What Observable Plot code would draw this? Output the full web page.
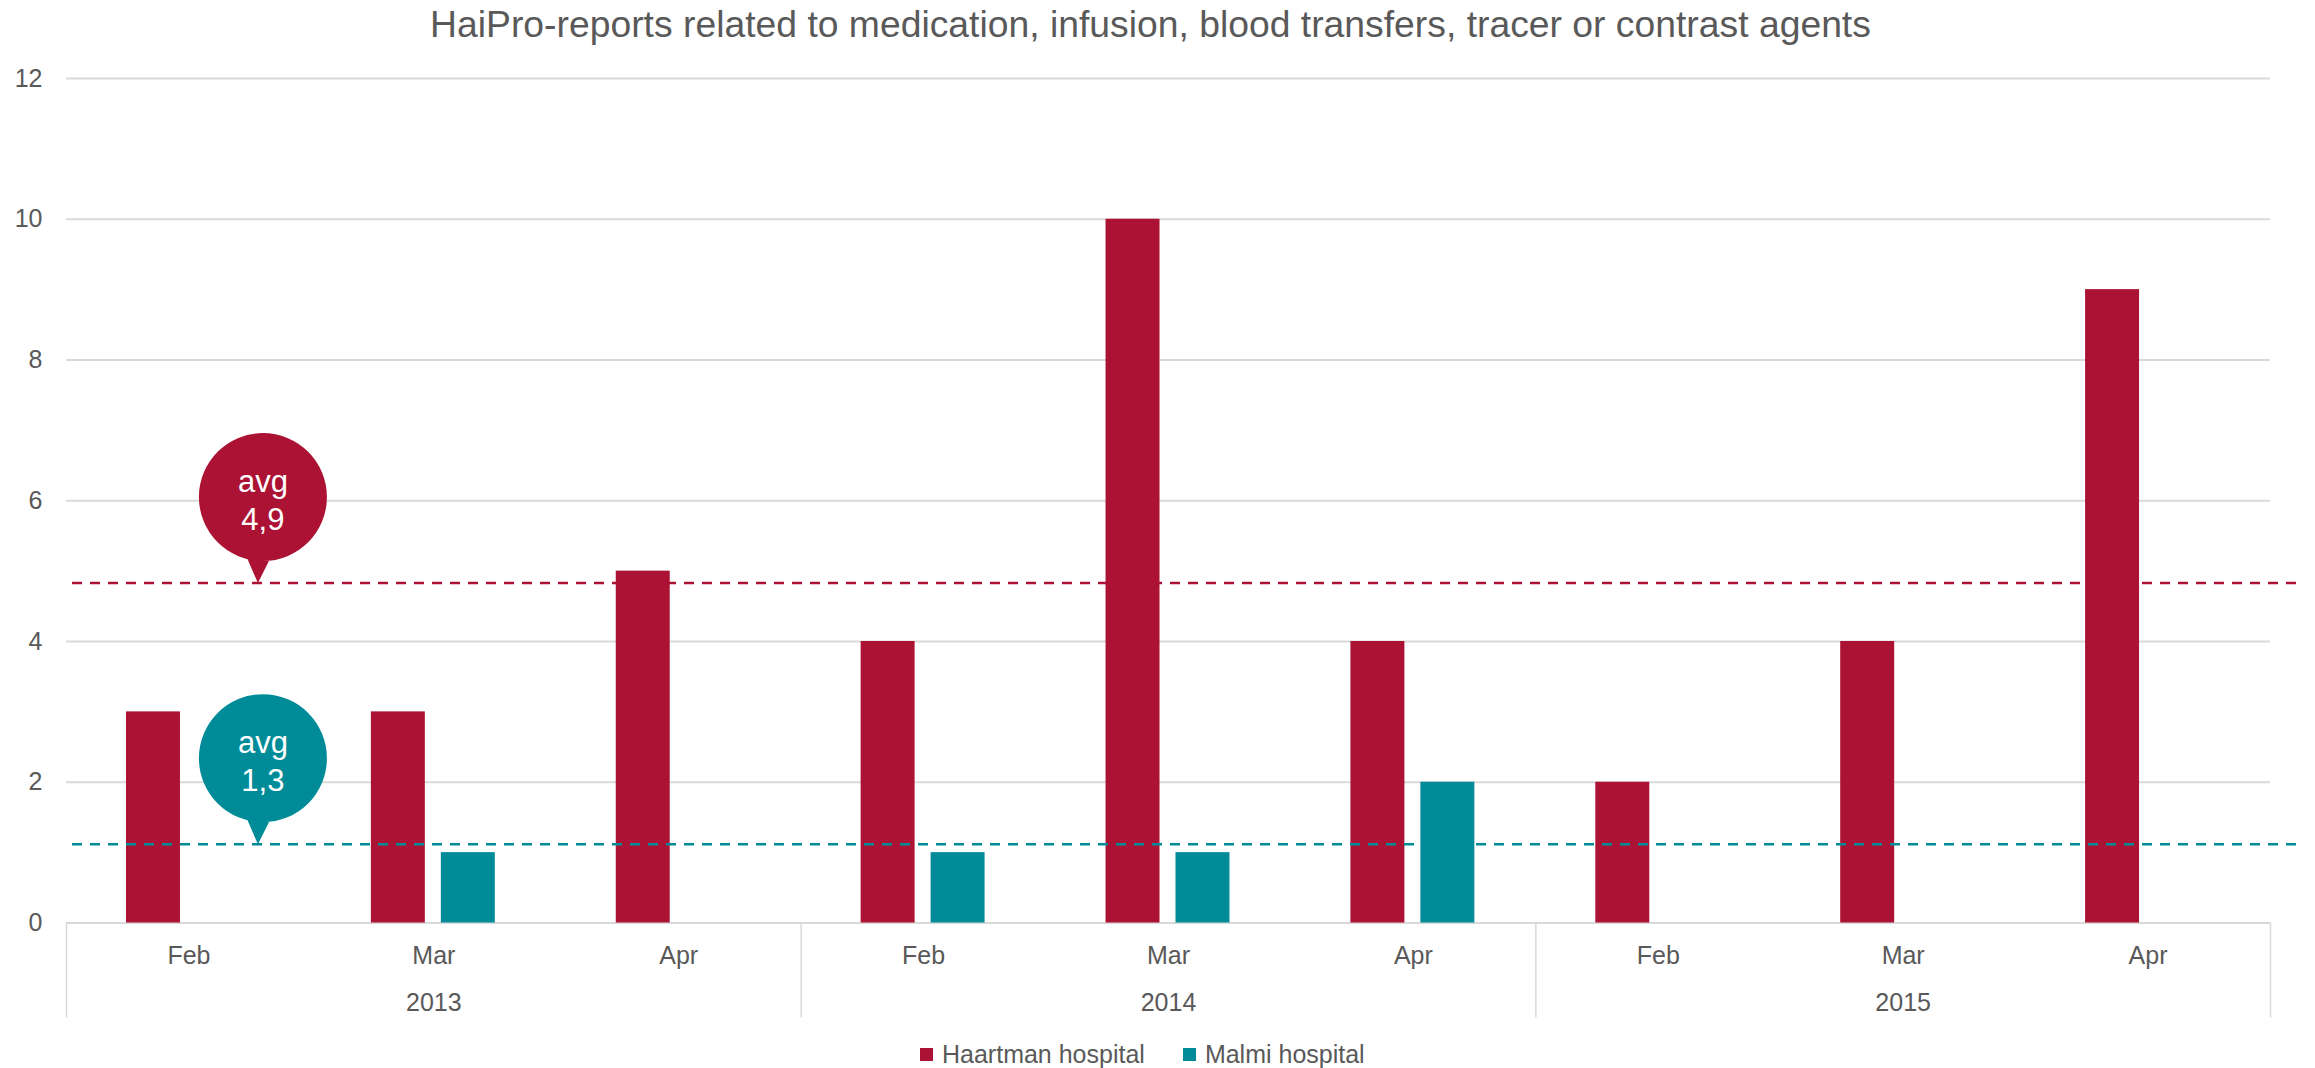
<!DOCTYPE html>
<html>
<head>
<meta charset="utf-8">
<script src="https://cdn.jsdelivr.net/npm/d3@7"></script>
<script src="https://cdn.jsdelivr.net/npm/@observablehq/plot@0.6"></script>
<style>
  html, body { margin: 0; padding: 0; background: #fff; }
  body { width: 2315px; height: 1068px; overflow: hidden; font-family: "Liberation Sans", Arial, sans-serif; color: #595959; }
  #title { height: 48px; line-height: 48px; font-size: 37.3px; text-align: center; white-space: nowrap; padding-right: 14px; }
  #legend { height: 48px; box-sizing: border-box; padding-top: 20px; padding-left: 920px; display: flex; align-items: center; font-size: 25px; line-height: 28px; }
  .item { display: flex; align-items: center; margin-right: 38px; }
  .sw { width: 13px; height: 13px; margin-right: 9px; display: inline-block; }
  svg { display: block; }
</style>
</head>
<body>
<div id="title">HaiPro-reports related to medication, infusion, blood transfers, tracer or contrast agents</div>
<div id="chart"></div>
<div id="legend"></div>
<script>
// ---- data ----
const years = ["2013", "2014", "2015"];
const months = ["Feb", "Mar", "Apr"];
const seriesNames = ["Haartman hospital", "Malmi hospital"];
const seriesColors = ["#AC1234", "#008B99"];
const haartman = [3, 3, 5, 4, 10, 4, 2, 4, 9];
const malmi = [0, 1, 0, 1, 1, 2, 0, 0, 0];
const avgValues = [4.83, 1.12];
const avgLabels = ["4,9", "1,3"];
const yTicks = [0, 2, 4, 6, 8, 10, 12];

// ---- derived tables ----
const periods = years.flatMap(y => months.map(m => `${y} ${m}`));
const rowsH = periods.map((p, i) => ({period: p, value: haartman[i]}));
const rowsM = periods.map((p, i) => ({period: p, value: malmi[i]})).filter(d => d.value > 0);
const avgRows = avgValues.map((v, i) => ({value: v, label: "avg\n" + avgLabels[i], color: seriesColors[i]}));
const yearStarts = years.map(y => `${y} ${months[0]}`);
const yearMids = years.map(y => `${y} ${months[1]}`);
const lastPeriod = periods[periods.length - 1];

const W = 2315, H = 972, ML = 66, MR = 45, MT = 30, MB = 97.5;
const bw = (W - ML - MR) / periods.length;
const gray = "#595959", gridC = "#d9d9d9";

// speech bubble symbol: tip at origin, circle above
const bubble = {
  draw(ctx, size) {
    const R = Math.sqrt(size / Math.PI);
    const cx = 5, cy = -86;
    ctx.moveTo(15, -30);
    ctx.lineTo(0, 0);
    ctx.lineTo(-13, -30);
    ctx.closePath();
    ctx.moveTo(cx + R, cy);
    ctx.arc(cx, cy, R, 0, 2 * Math.PI);
    ctx.closePath();
  }
};

const plot = Plot.plot({
  width: W, height: H,
  marginLeft: ML, marginRight: MR, marginTop: MT, marginBottom: MB,
  style: {fontFamily: "'Liberation Sans', Arial, sans-serif", fontSize: "25px", color: gray, background: "#fff"},
  x: {type: "band", domain: periods, padding: 0, round: false, label: null},
  y: {domain: [0, 12], label: null},
  marks: [
    Plot.gridY({ticks: yTicks, stroke: gridC, strokeOpacity: 1, strokeWidth: 2}),
    Plot.axisY({ticks: yTicks, tickSize: 0, tickPadding: 24, fontSize: 25, fill: gray, label: null}),
    Plot.axisX({tickSize: 0, tickPadding: 23, fontSize: 25, fill: gray, label: null, tickFormat: d => d.split(" ")[1]}),
    Plot.axisX({ticks: yearMids, tickSize: 0, tickPadding: 70.5, fontSize: 25, fill: gray, label: null, tickFormat: d => d.split(" ")[0]}),
    Plot.axisX({ticks: yearStarts, tickSize: 95, dx: -bw / 2, stroke: gridC, strokeWidth: 1.5, label: null, tickFormat: () => ""}),
    Plot.axisX({ticks: [lastPeriod], tickSize: 95, dx: bw / 2, stroke: gridC, strokeWidth: 1.5, label: null, tickFormat: () => ""}),
    Plot.barY(rowsH, {x: "period", y: "value", fill: seriesColors[0], insetLeft: bw * 60 / 245, insetRight: bw * 131 / 245}),
    Plot.barY(rowsM, {x: "period", y: "value", fill: seriesColors[1], insetLeft: bw * 130 / 245, insetRight: bw * 61 / 245}),
    Plot.ruleY(avgRows, {y: "value", stroke: "color", strokeWidth: 2.5, strokeDasharray: "10,8", insetLeft: 6, insetRight: -30}),
    Plot.dot(avgRows, {x: () => periods[0], y: "value", dx: bw * 69 / 245, r: 64, symbol: bubble, fill: "color", stroke: "none"}),
    Plot.text(avgRows, {x: () => periods[0], y: "value", text: "label", dx: bw * 74 / 245, dy: -84, fill: "white", fontSize: 31, lineHeight: 1.22, textAnchor: "middle", lineAnchor: "middle"})
  ]
});
document.getElementById("chart").appendChild(plot);

const legend = document.getElementById("legend");
seriesNames.forEach((n, i) => {
  const it = document.createElement("span");
  it.className = "item";
  const sw = document.createElement("span");
  sw.className = "sw";
  sw.style.background = seriesColors[i];
  it.appendChild(sw);
  it.appendChild(document.createTextNode(n));
  legend.appendChild(it);
});
</script>
</body>
</html>
